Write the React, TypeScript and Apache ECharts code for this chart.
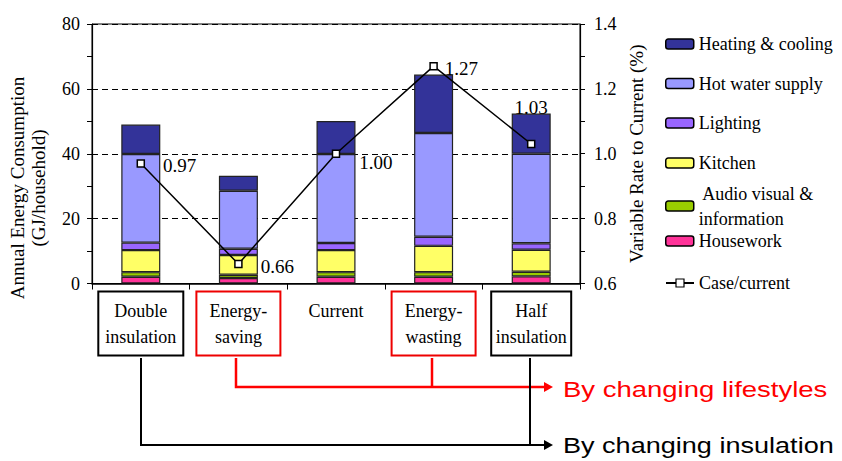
import React, { useEffect, useRef } from "react";
import * as echarts from "echarts";

// ---- data ----
const categories = ["Double\ninsulation", "Energy-\nsaving", "Current", "Energy-\nwasting", "Half\ninsulation"];
const housework = [2.1, 1.7, 2.1, 2.1, 2.2];
const audioVisual = [1.4, 1.0, 1.4, 1.4, 1.4];
const kitchen = [6.8, 6.1, 6.8, 8.1, 6.8];
const lighting = [2.3, 1.9, 2.2, 2.8, 2.0];
const hotWater = [27.3, 17.9, 27.4, 32.0, 27.6];
const heatingCooling = [9.1, 4.6, 10.2, 18.0, 12.4];
const caseCurrent = [0.97, 0.66, 1.0, 1.27, 1.03];

const seriesNames = [
  "Housework",
  "Audio visual & information",
  "Kitchen",
  "Lighting",
  "Hot water supply",
  "Heating & cooling",
];
const lineName = "Case/current";
const leftAxisTitle = "Annual Energy Consumption\n(GJ/household)";
const rightAxisTitle = "Variable Rate to Current (%)";
const annotations = ["By changing lifestyles", "By changing insulation"];

// ---- styles ----
const SERIF = "Liberation Serif";
const SANS = "Liberation Sans";
const colors = ["#FF3399", "#99CC00", "#FFFF66", "#9966FF", "#9999FF", "#333399"];
const boxStyles = [
  { border: "#000000", width: 81 },
  { border: "#EE0000", width: 80 },
  { border: null, width: 80 },
  { border: "#EE0000", width: 80 },
  { border: "#000000", width: 76 },
];
const labelPlacement = [
  { position: "right", distance: 18, offset: [0, 2] },
  { position: "right", distance: 18, offset: [0, 2] },
  { position: "right", distance: 19, offset: [0, 9] },
  { position: "right", distance: 7, offset: [0, 2] },
  { position: "top", distance: 23, offset: [0, 0] },
];
const legendTops: Record<string, number> = {
  "Heating & cooling": 34,
  "Hot water supply": 73.5,
  Lighting: 113,
  Kitchen: 153,
  "Audio visual & information": 181,
  Housework: 231,
  "Case/current": 273,
};

export default function App() {
  const ref = useRef<HTMLDivElement>(null);
  useEffect(() => {
    document.body.style.margin = "0";
    const chart = echarts.init(ref.current!, null, { renderer: "svg" });
    const stacks = [housework, audioVisual, kitchen, lighting, hotWater, heatingCooling];

    const barSeries = stacks.map((arr, i) => ({
      name: seriesNames[i],
      type: "bar",
      stack: "total",
      barWidth: 39,
      yAxisIndex: 0,
      data: arr,
      itemStyle: { color: colors[i], borderColor: "#222", borderWidth: 1.2 },
    }));

    const legends = Object.keys(legendTops).map((name) => ({
      data: [name],
      left: 665,
      top: legendTops[name],
      padding: 0,
      itemWidth: 28,
      itemHeight: 10,
      itemGap: 0,
      selectedMode: false,
      formatter: (n: string) => (n === "Audio visual & information" ? " Audio visual &\ninformation" : n),
      textStyle: {
        fontFamily: SERIF,
        fontSize: 18,
        color: "#000",
        lineHeight: name === "Audio visual & information" ? 25 : 20,
      },
      itemStyle:
        name === lineName
          ? { color: "#fff", borderColor: "#000", borderWidth: 1.2 }
          : { borderColor: "#000", borderWidth: 1.5 },
    }));

    const option: any = {
      animation: false,
      backgroundColor: "#ffffff",
      textStyle: { fontFamily: SERIF },
      grid: {
        left: 92,
        right: 262,
        top: 24,
        bottom: 177.5,
        show: true,
        borderColor: "#000",
        borderWidth: 1,
      },
      legend: legends,
      xAxis: {
        type: "category",
        data: categories.map((c, i) => ({
          value: c,
          textStyle: {
            fontFamily: SERIF,
            fontSize: 18,
            width: boxStyles[i].width,
            align: "center",
            padding: [6, 2, 6, 2],
            borderColor: boxStyles[i].border || "transparent",
            borderWidth: boxStyles[i].border ? 2 : 0,
          },
        })),
        axisLine: { lineStyle: { color: "#000", width: 1.5 } },
        axisTick: { show: true, length: 6, lineStyle: { color: "#000" } },
        axisLabel: {
          interval: 0,
          margin: 8,
          fontFamily: SERIF,
          fontSize: 18,
          color: "#000",
          lineHeight: 26,
        },
      },
      yAxis: [
        {
          type: "value",
          min: 0,
          max: 80,
          interval: 20,
          axisLine: { show: true, lineStyle: { color: "#000", width: 1.2 } },
          axisTick: { show: true, length: 5, lineStyle: { color: "#000" } },
          minorTick: { show: true, splitNumber: 2, length: 5, lineStyle: { color: "#000" } },
          axisLabel: { fontFamily: SERIF, fontSize: 18, color: "#000", margin: 12 },
          splitLine: { show: true, lineStyle: { color: "#000", type: [6, 4], width: 1 } },
        },
        {
          type: "value",
          min: 0.6,
          max: 1.4,
          interval: 0.2,
          name: rightAxisTitle,
          nameLocation: "middle",
          nameRotate: 90,
          nameGap: 47,
          nameTextStyle: { fontFamily: SERIF, fontSize: 19, color: "#000" },
          axisLine: { show: true, lineStyle: { color: "#000", width: 1.2 } },
          axisTick: { show: true, length: 5, lineStyle: { color: "#000" } },
          minorTick: { show: true, splitNumber: 2, length: 5, lineStyle: { color: "#000" } },
          axisLabel: {
            fontFamily: SERIF,
            fontSize: 18,
            color: "#000",
            margin: 14,
            formatter: (v: number) => v.toFixed(1),
          },
          splitLine: { show: false },
        },
      ],
      series: [
        ...barSeries,
        {
          name: lineName,
          type: "line",
          yAxisIndex: 1,
          z: 5,
          symbol: "rect",
          symbolSize: 7,
          lineStyle: { color: "#000", width: 1.5 },
          itemStyle: { color: "#fff", borderColor: "#000", borderWidth: 1.5 },
          data: caseCurrent.map((v, i) => ({
            value: v,
            label: {
              show: true,
              position: labelPlacement[i].position,
              distance: labelPlacement[i].distance,
              offset: labelPlacement[i].offset,
              formatter: (p: any) => Number(p.value).toFixed(2),
              fontFamily: SERIF,
              fontSize: 19,
              color: "#000",
            },
          })),
        },
      ],
      graphic: [
        {
          type: "text",
          x: 28,
          y: 188,
          rotation: Math.PI / 2,
          style: {
            text: leftAxisTitle,
            fontFamily: SERIF,
            fontSize: 19,
            lineHeight: 21,
            fill: "#000",
            align: "center",
            verticalAlign: "middle",
          },
        },
        // red lifestyle connectors
        {
          type: "polyline",
          shape: { points: [[236, 358], [236, 387], [546, 387]] },
          style: { stroke: "#FF0000", lineWidth: 2.5, fill: null },
        },
        {
          type: "line",
          shape: { x1: 432, y1: 358, x2: 432, y2: 387 },
          style: { stroke: "#FF0000", lineWidth: 2.5 },
        },
        {
          type: "polygon",
          shape: { points: [[544, 382], [553, 387], [544, 392]] },
          style: { fill: "#FF0000" },
        },
        // black insulation connectors
        {
          type: "polyline",
          shape: { points: [[141, 358], [141, 445], [546, 445]] },
          style: { stroke: "#000", lineWidth: 2, fill: null },
        },
        {
          type: "line",
          shape: { x1: 530, y1: 358, x2: 530, y2: 445 },
          style: { stroke: "#000", lineWidth: 2 },
        },
        {
          type: "polygon",
          shape: { points: [[544, 440], [553, 445], [544, 450]] },
          style: { fill: "#000" },
        },
        {
          type: "text",
          x: 563,
          y: 389,
          scaleX: 1.25,
          style: {
            text: annotations[0],
            fontFamily: SANS,
            fontSize: 22,
            fill: "#FF0000",
            verticalAlign: "middle",
          },
        },
        {
          type: "text",
          x: 563,
          y: 445,
          scaleX: 1.23,
          style: {
            text: annotations[1],
            fontFamily: SANS,
            fontSize: 22,
            fill: "#000",
            verticalAlign: "middle",
          },
        },
      ],
    };
    chart.setOption(option);
    return () => chart.dispose();
  }, []);
  return <div ref={ref} style={{ width: 842, height: 461 }} />;
}
